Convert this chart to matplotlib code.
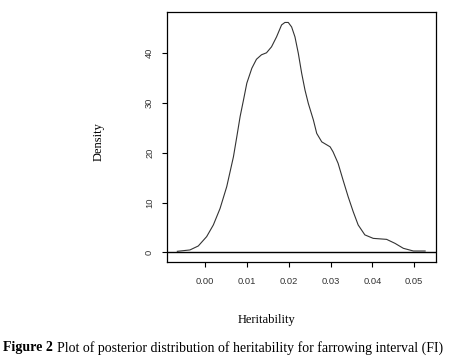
import matplotlib
matplotlib.use("Agg")
import matplotlib.pyplot as plt

# posterior density of heritability
h2 = [-0.0066, -0.0036, -0.0016, 0.0004, 0.0020, 0.0036, 0.0052, 0.0068,
      0.0076, 0.0084, 0.0092, 0.0100, 0.0112, 0.0123, 0.0135, 0.0147,
      0.0159, 0.0171, 0.0183, 0.0191, 0.0199, 0.0207, 0.0215, 0.0223,
      0.0231, 0.0239, 0.0247, 0.0259, 0.0267, 0.0279, 0.0299, 0.0306,
      0.0318, 0.0330, 0.0342, 0.0354, 0.0366, 0.0382, 0.0402, 0.0434,
      0.0454, 0.0474, 0.0498, 0.0526]
density = [0.2, 0.47, 1.27, 3.15, 5.5, 8.8, 13.2, 19.2,
           23.2, 27.3, 30.6, 34.0, 37.0, 38.8, 39.7, 40.1,
           41.3, 43.3, 45.7, 46.2, 46.2, 45.3, 43.3, 40.0,
           36.0, 32.6, 29.9, 26.6, 23.9, 22.2, 21.2, 20.2,
           17.9, 14.5, 11.2, 8.2, 5.5, 3.5, 2.8, 2.6,
           1.8, 0.8, 0.26, 0.26]
xticks = [0.00, 0.01, 0.02, 0.03, 0.04, 0.05]
yticks = [0, 10, 20, 30, 40]

TICK_FONT = "Liberation Sans"
TEXT_FONT = "Liberation Serif"

fig = plt.figure(figsize=(4.5, 3.64), dpi=100)
ax = fig.add_axes([0.3704, 0.2794, 0.5985, 0.6868])

ax.plot(h2, density, color="#333333", lw=0.8)
ax.axhline(0, color="black", lw=1.0)

ax.set_xlim(-0.00915, 0.0552)
ax.set_ylim(-2.01, 48.24)
ax.set_xticks(xticks)
ax.set_xticklabels([f"{v:.2f}" for v in xticks], fontfamily=TICK_FONT,
                   fontsize=6.7, color="#333333")
ax.set_yticks(yticks)
ax.set_yticklabels([str(v) for v in yticks], fontfamily=TICK_FONT,
                   fontsize=6.7, color="#333333", rotation=90, va="center")
ax.tick_params(axis="x", length=3.6, width=0.8, pad=7)
ax.tick_params(axis="y", length=3.6, width=0.8, pad=5.5)
for s in ax.spines.values():
    s.set_linewidth(0.9)
    s.set_color("black")

fig.text(98.3 / 450, 1 - 141.7 / 364, "Density", rotation=90, ha="center",
         va="center", fontfamily=TEXT_FONT, fontsize=9)
fig.text(266.7 / 450, 1 - 320 / 364, "Heritability", ha="center", va="center",
         fontfamily=TEXT_FONT, fontsize=9)

# figure caption
fig.text(3.3 / 450, 1 - 347.7 / 364, "Figure 2", ha="left", va="center",
         fontfamily=TEXT_FONT, fontsize=10, fontweight="bold")
fig.text(57.3 / 450, 1 - 347.7 / 364,
         "Plot of posterior distribution of heritability for farrowing interval (FI)",
         ha="left", va="center", fontfamily=TEXT_FONT, fontsize=10)

fig.savefig("out.png", dpi=100)
